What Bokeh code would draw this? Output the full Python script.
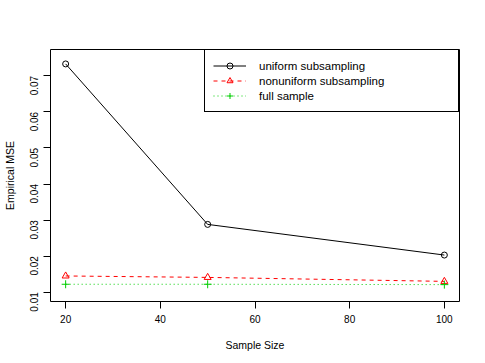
import math
from bokeh.plotting import figure
from bokeh.models import FixedTicker, PrintfTickFormatter, Legend, LegendItem, Range1d
from bokeh.embed import file_html
from bokeh.resources import INLINE

sample_size = [20, 50, 100]
uniform_mse = [0.0733, 0.0288, 0.0203]
nonuniform_mse = [0.0145, 0.0141, 0.0130]
full_mse = [0.0122, 0.0122, 0.0121]

x_ticks = [20, 40, 60, 80, 100]
y_ticks = [0.01, 0.02, 0.03, 0.04, 0.05, 0.06, 0.07]

FONT = "Liberation Sans"

p = figure(width=477, height=355, output_backend="svg", toolbar_location=None,
           x_range=Range1d(16.8, 103.2), y_range=Range1d(0.00742, 0.0773),
           min_border_left=49, min_border_right=18, min_border_top=49, min_border_bottom=54)

p.xgrid.visible = False
p.ygrid.visible = False
p.outline_line_color = "black"
p.outline_line_width = 1
p.outline_line_alpha = 1

for ax in (p.xaxis[0], p.yaxis[0]):
    ax.axis_line_color = None
    ax.major_tick_out = 7
    ax.major_tick_in = 0
    ax.minor_tick_line_color = None
    ax.major_tick_line_color = "black"
    ax.major_label_text_font = FONT
    ax.major_label_text_font_size = "10px"
    ax.major_label_text_color = "black"
    ax.axis_label_text_font = FONT
    ax.axis_label_text_font_size = "10.5px"
    ax.axis_label_text_font_style = "normal"
    ax.axis_label_text_color = "black"

p.xaxis.major_label_standoff = 6
p.yaxis.major_label_standoff = 9
p.xaxis.ticker = FixedTicker(ticks=x_ticks)
p.yaxis.ticker = FixedTicker(ticks=y_ticks)
p.yaxis.formatter = PrintfTickFormatter(format="%.2f")
p.yaxis.major_label_orientation = math.pi / 2
p.xaxis.axis_label = "Sample Size"
p.yaxis.axis_label = "Empirical MSE"
p.xaxis.axis_label_standoff = 13
p.yaxis.axis_label_standoff = 8

l1 = p.line(sample_size, uniform_mse, line_color="black", line_width=1)
m1 = p.scatter(sample_size, uniform_mse, marker="circle", size=6, fill_color=None,
               line_color="black", line_width=1)
l2 = p.line(sample_size, nonuniform_mse, line_color="#FF0000", line_width=1, line_dash="4 4")
m2 = p.scatter(sample_size, nonuniform_mse, marker="triangle", size=7, fill_color=None,
               line_color="#FF0000", line_width=1)
l3 = p.line(sample_size, full_mse, line_color="#00CD00", line_width=1, line_dash="1 3")
m3 = p.scatter(sample_size, full_mse, marker="cross", size=8,
               line_color="#00CD00", line_width=1)

legend = Legend(items=[
    LegendItem(label="uniform subsampling", renderers=[l1, m1]),
    LegendItem(label="nonuniform subsampling", renderers=[l2, m2]),
    LegendItem(label="full sample", renderers=[l3, m3]),
], location="top_right")
legend.margin = 0
legend.padding = 8
legend.spacing = 0
legend.glyph_width = 33
legend.glyph_height = 15
legend.label_height = 15
legend.label_standoff = 13
legend.label_width = 191
legend.label_text_font = FONT
legend.label_text_font_size = "11.5px"
legend.label_text_color = "black"
legend.border_line_color = "black"
legend.border_line_width = 1
legend.border_line_alpha = 1
legend.background_fill_color = "white"
legend.background_fill_alpha = 1
p.add_layout(legend, "center")

open("out.html", "w").write(file_html(p, INLINE))
